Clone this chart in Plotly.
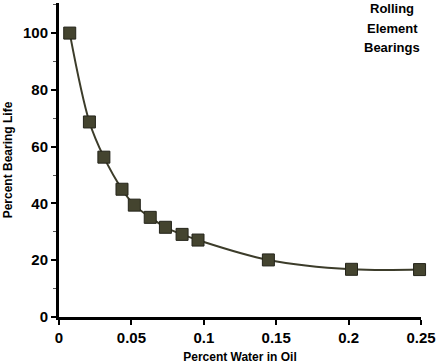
import plotly.graph_objects as go

water_pct = [0.0074, 0.021, 0.031, 0.0435, 0.052, 0.063, 0.0735, 0.085, 0.096, 0.1446, 0.202, 0.249]
bearing_life = [100, 68.7, 56.3, 45.0, 39.4, 35.1, 31.6, 29.1, 27.1, 20.1, 16.8, 16.7]
x_ticks = [0, 0.05, 0.1, 0.15, 0.2, 0.25]
x_tick_labels = ["0", "0.05", "0.1", "0.15", "0.2", "0.25"]
y_ticks = [0, 20, 40, 60, 80, 100]
label_lines = ["Rolling", "Element", "Bearings"]

FONT = "Liberation Sans, Arial, sans-serif"
C = "#3c3c2a"

L, R, T, B = 59, 15, 3, 47
W, H = 436, 364
pw = W - L - R
ph = H - T - B

fig = go.Figure()
fig.add_trace(go.Scatter(
    x=water_pct, y=bearing_life, mode="lines+markers",
    line=dict(color=C, width=2, shape="spline", smoothing=1.0),
    marker=dict(symbol="square", size=12, color="#44442f", line=dict(color="#24241a", width=1)),
    cliponaxis=False, showlegend=False,
))

annots = []
for i, t in enumerate(label_lines):
    ypix = 9 + 19.5 * i
    annots.append(dict(
        x=(392 - L) / pw, y=(H - B - ypix) / ph, xref="paper", yref="paper", showarrow=False,
        xanchor="center", yanchor="middle",
        text="<b>" + t + "</b>", font=dict(size=13, family=FONT, color="black"),
    ))

fig.update_layout(
    width=W, height=H,
    margin=dict(l=L, r=R, t=T, b=B),
    paper_bgcolor="white", plot_bgcolor="white",
    font=dict(family=FONT, color="black"),
    xaxis=dict(
        range=[0, 0.25], tickvals=x_ticks, ticktext=x_tick_labels, automargin=False,
        showgrid=False, zeroline=False, showline=True, linecolor="black", linewidth=3,
        ticks="outside", ticklen=5, tickwidth=2, tickcolor="black",
        tickfont=dict(size=15, family=FONT, weight="bold"),
        title=dict(text="<b>Percent Water in Oil</b>", font=dict(size=12, family=FONT), standoff=11),
    ),
    yaxis=dict(
        range=[0, 110.6], tickvals=y_ticks, automargin=False,
        showgrid=False, zeroline=False, showline=True, linecolor="black", linewidth=3,
        ticks="outside", ticklen=5, tickwidth=2, tickcolor="black",
        minor=dict(ticks="outside", dtick=10, ticklen=3, tickwidth=1, tickcolor="#555"),
        tickfont=dict(size=15, family=FONT, weight="bold"),
        title=dict(text="<b>Percent Bearing Life</b>", font=dict(size=12, family=FONT), standoff=8),
    ),
    annotations=annots,
)
fig.write_html("out.html", config={"displayModeBar": False},
               post_script="document.body.style.margin='0px';document.body.style.overflow='hidden';")
